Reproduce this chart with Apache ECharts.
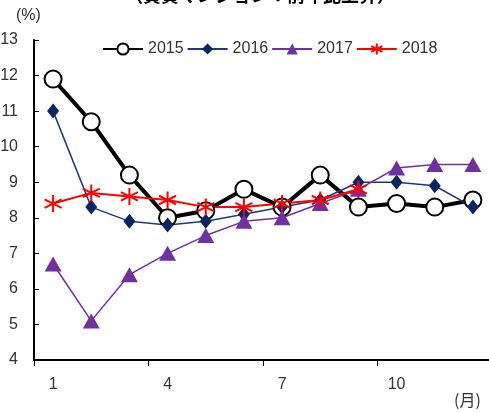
<!DOCTYPE html>
<html><head><meta charset="utf-8">
<script src="https://cdn.jsdelivr.net/npm/echarts@6/dist/echarts.min.js"></script>
<style>html,body{margin:0;padding:0;background:#fff}#c{width:489px;height:412px}</style>
</head><body><div id="c"></div>
<script>
const months = ['1','2','3','4','5','6','7','8','9','10','11','12'];
const s2015 = [11.9,10.7,9.2,8.0,8.2,8.8,8.3,9.2,8.3,8.4,8.3,8.5];
const s2016 = [11.0,8.3,7.9,7.8,7.9,8.1,8.3,8.5,9.0,9.0,8.9,8.3];
const s2017 = [6.7,5.1,6.4,7.0,7.5,7.9,8.0,8.4,8.8,9.4,9.5,9.5];
const s2018 = [8.4,8.7,8.6,8.5,8.3,8.3,8.4,8.5,8.8];
const yTicks = [4,5,6,7,8,9,10,11,12,13];
const FONT = '"Liberation Sans",Arial,sans-serif';
const star = 'path://M0,-10L0,10M-8.66,-5L8.66,5M-8.66,5L8.66,-5';
const chart = echarts.init(document.getElementById('c'));
chart.setOption({
  animation:false,
  graphic:[
    {type:'text',left:125,top:-14,style:{text:'（賃貸マンション：前年比上昇）',font:'bold 18px "Noto Sans CJK JP"',fill:'#000'}},
    {type:'text',left:16,top:8,style:{text:'(%)',font:'16px '+FONT,fill:'#333'}},
    {type:'text',left:454,top:392,style:{text:'(月)',font:'16px "Noto Sans CJK JP"',fill:'#333'}}
  ],
  legend:{
    top:36,left:97,itemWidth:40,itemHeight:14,itemGap:3,
    textStyle:{fontFamily:FONT,fontSize:16,color:'#333'},
    data:['2015','2016','2017','2018']
  },
  grid:{left:34,right:-3,top:40,bottom:52,containLabel:false,outerBoundsMode:'none'},
  xAxis:{
    type:'category',data:months,boundaryGap:true,
    axisLine:{lineStyle:{color:'#000',width:2}},
    axisTick:{show:true,interval:2,length:6,lineStyle:{color:'#000',width:1}},
    axisLabel:{interval:2,fontFamily:FONT,fontSize:16,color:'#333',margin:17,align:'center'}
  },
  yAxis:{
    type:'value',min:4,max:13,interval:1,
    axisLine:{show:true,lineStyle:{color:'#000',width:2}},
    axisTick:{show:true,inside:true,length:5,lineStyle:{color:'#000'}},
    axisLabel:{fontFamily:FONT,fontSize:16,color:'#333',margin:16},
    splitLine:{show:false}
  },
  series:[
    {name:'2015',type:'line',data:s2015,symbol:'circle',symbolSize:17,
     lineStyle:{color:'#000',width:4},itemStyle:{color:'#fff',borderColor:'#000',borderWidth:2}},
    {name:'2016',type:'line',data:s2016,symbol:'diamond',symbolSize:[12,15],
     lineStyle:{color:'#1f3a78',width:1.5},itemStyle:{color:'#0d2563'}},
    {name:'2017',type:'line',data:s2017,symbol:'triangle',symbolSize:[17,15],
     lineStyle:{color:'#7030a0',width:1.5},itemStyle:{color:'#7030a0'}},
    {name:'2018',type:'line',data:s2018,symbol:star,symbolSize:17,
     lineStyle:{color:'#ff0000',width:2},itemStyle:{color:'#ff0000',borderColor:'#ff0000',borderWidth:2}}
  ]
});
</script></body></html>
